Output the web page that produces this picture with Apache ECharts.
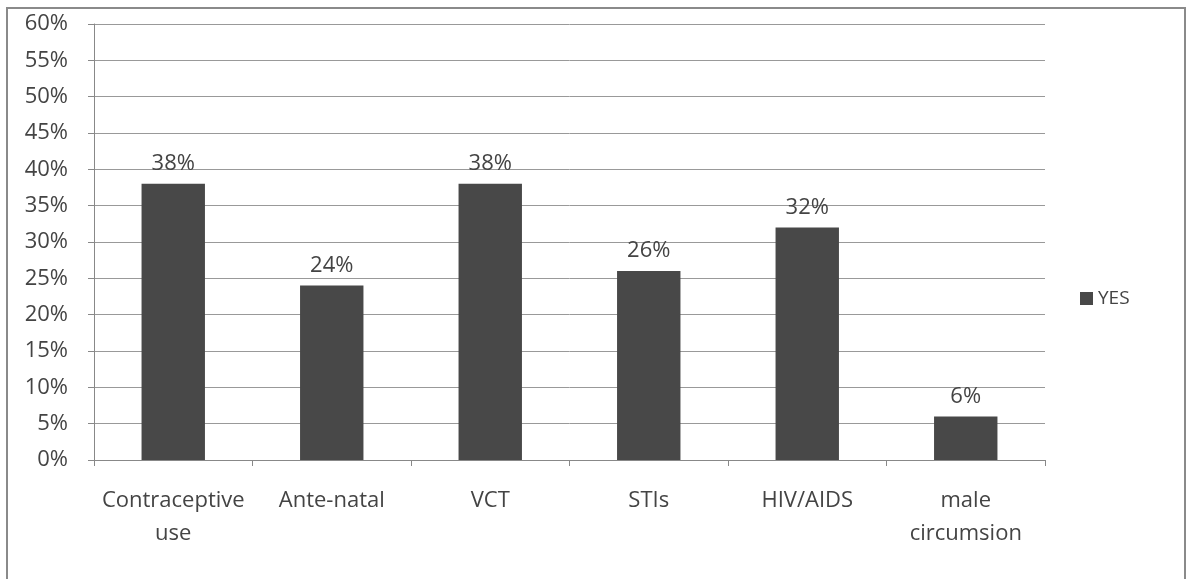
<!DOCTYPE html>
<html><head><meta charset="utf-8">
<script src="https://cdn.jsdelivr.net/npm/echarts@6/dist/echarts.min.js"></script>
<style>html,body{margin:0;padding:0;background:#fff}#c{width:1188px;height:579px}</style>
</head><body><div id="c"></div>
<script>
const categories = ['Contraceptive\nuse', 'Ante-natal', 'VCT', 'STIs', 'HIV/AIDS', 'male\ncircumsion'];
const yesValues = [38, 24, 38, 26, 32, 6];
const seriesName = 'YES';
const font = 'Open Sans';
const chart = echarts.init(document.getElementById('c'));
chart.setOption({
  animation: false,
  backgroundColor: '#fff',
  textStyle: { fontFamily: font },
  graphic: [{ type: 'rect', shape: { x: 7, y: 8, width: 1178, height: 590 }, style: { fill: 'none', stroke: '#8a8a8a', lineWidth: 2 } }],
  grid: { left: 94, right: 143, top: 24, bottom: 119 },
  legend: { data: [seriesName], left: 1075, top: 284, orient: 'vertical', icon: 'rect', itemWidth: 13, itemHeight: 13, itemGap: 6,
    textStyle: { fontSize: 19, color: '#444', fontFamily: font } },
  xAxis: { type: 'category', data: categories,
    axisLine: { lineStyle: { color: '#888', width: 1 } },
    axisTick: { show: true, alignWithLabel: false, length: 6, lineStyle: { color: '#888' } },
    axisLabel: { interval: 0, fontSize: 22, color: '#444', margin: 24, lineHeight: 33, fontFamily: font } },
  yAxis: { type: 'value', min: 0, max: 60, interval: 5,
    axisLine: { show: true, lineStyle: { color: '#888' } },
    axisTick: { show: true, length: 6, inside: false, lineStyle: { color: '#888' } },
    splitLine: { lineStyle: { color: '#999', width: 1 } },
    axisLabel: { formatter: '{value}%', fontSize: 22, color: '#444', margin: 26, fontFamily: font } },
  series: [{ name: seriesName, type: 'bar', data: yesValues, barWidth: '40%',
    itemStyle: { color: '#484848' },
    label: { show: true, position: 'top', formatter: '{c}%', fontSize: 22, color: '#444', distance: 9, fontFamily: font } }]
});
</script></body></html>
